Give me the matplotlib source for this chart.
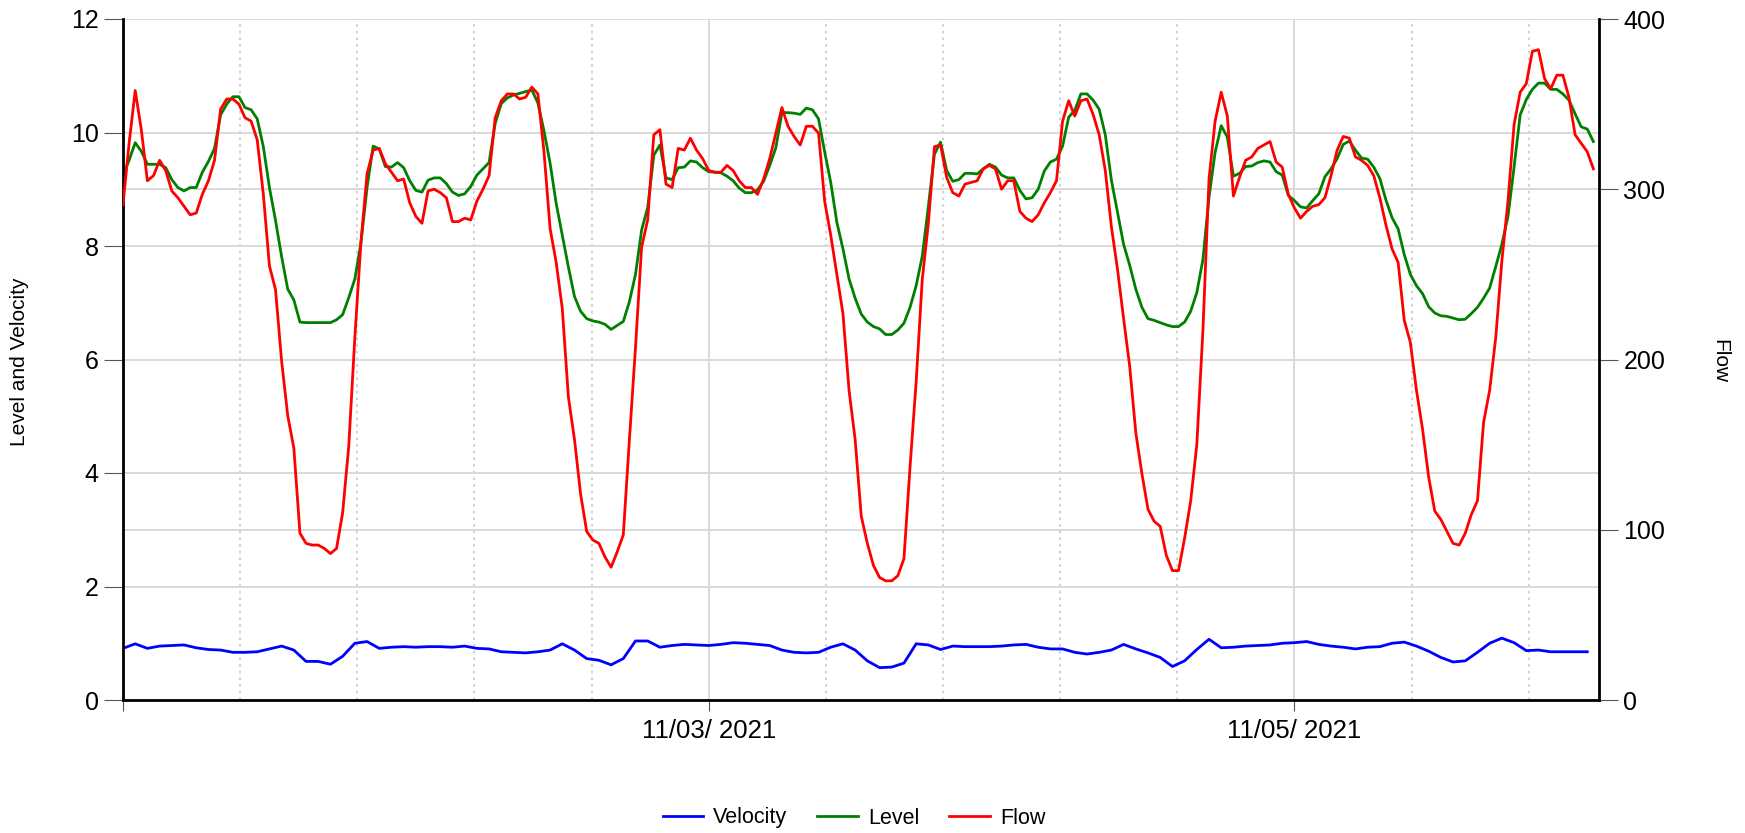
import matplotlib
matplotlib.use("Agg")
import matplotlib.pyplot as plt
import matplotlib.dates as mdates
from matplotlib.ticker import FixedLocator, NullFormatter
import pandas as pd

# --- Daten (30-min Raster fuer Level/Flow, Stundenraster fuer Velocity) ---
START = "2021-11-01 00:00"

level = [
    9.25, 9.51, 9.82, 9.67, 9.44, 9.44, 9.44, 9.38, 9.17, 9.03, 8.97, 9.03, 9.03, 9.30, 9.49, 9.72,
    10.31, 10.50, 10.63, 10.63, 10.44, 10.40, 10.24, 9.75, 9.03, 8.45, 7.81, 7.24, 7.05, 6.66, 6.65, 6.65,
    6.65, 6.65, 6.65, 6.70, 6.79, 7.09, 7.42, 8.06, 9.03, 9.76, 9.71, 9.40, 9.39, 9.47, 9.38, 9.15,
    8.98, 8.95, 9.16, 9.20, 9.20, 9.10, 8.95, 8.89, 8.92, 9.05, 9.25, 9.36, 9.47, 10.16, 10.51, 10.61,
    10.66, 10.69, 10.72, 10.75, 10.52, 10.03, 9.46, 8.75, 8.19, 7.63, 7.11, 6.85, 6.72, 6.68, 6.66, 6.62,
    6.53, 6.60, 6.67, 7.02, 7.50, 8.28, 8.68, 9.60, 9.78, 9.20, 9.17, 9.38, 9.39, 9.50, 9.48, 9.38,
    9.31, 9.30, 9.29, 9.23, 9.15, 9.02, 8.94, 8.94, 8.99, 9.14, 9.42, 9.73, 10.35, 10.35, 10.34, 10.32,
    10.43, 10.40, 10.24, 9.66, 9.12, 8.42, 7.95, 7.42, 7.08, 6.80, 6.66, 6.58, 6.54, 6.44, 6.44, 6.52,
    6.64, 6.92, 7.30, 7.82, 8.70, 9.62, 9.83, 9.33, 9.14, 9.17, 9.28, 9.28, 9.27, 9.36, 9.44, 9.39,
    9.25, 9.20, 9.20, 8.98, 8.83, 8.85, 9.00, 9.32, 9.48, 9.53, 9.76, 10.27, 10.39, 10.68, 10.68, 10.57,
    10.41, 9.96, 9.16, 8.60, 8.03, 7.66, 7.24, 6.92, 6.72, 6.69, 6.65, 6.61, 6.58, 6.58, 6.66, 6.85,
    7.18, 7.76, 8.86, 9.65, 10.12, 9.92, 9.23, 9.28, 9.40, 9.41, 9.47, 9.50, 9.48, 9.31, 9.25, 8.89,
    8.80, 8.69, 8.67, 8.80, 8.92, 9.22, 9.36, 9.54, 9.79, 9.85, 9.69, 9.55, 9.53, 9.39, 9.19, 8.81,
    8.50, 8.30, 7.85, 7.50, 7.30, 7.16, 6.93, 6.82, 6.77, 6.76, 6.73, 6.70, 6.71, 6.81, 6.92, 7.08,
    7.26, 7.64, 8.03, 8.52, 9.39, 10.31, 10.58, 10.76, 10.87, 10.87, 10.76, 10.76, 10.68, 10.57, 10.33, 10.10,
    10.06, 9.84,
]

flow = [
    291, 327, 358, 335, 305, 308, 317, 311, 299, 295, 290, 285, 286, 297, 305, 317,
    347, 353, 353, 350, 342, 340, 329, 297, 255, 241, 199, 167, 148, 98, 92, 91,
    91, 89, 86, 89, 110, 149, 213, 269, 309, 323, 324, 315, 310, 305, 306, 292,
    284, 280, 299, 300, 298, 295, 281, 281, 283, 282, 293, 300, 308, 342, 352, 356,
    356, 353, 354, 360, 356, 322, 277, 257, 230, 178, 153, 121, 99, 94, 92, 84,
    78, 87, 97, 153, 207, 266, 282, 332, 335, 303, 301, 324, 323, 330, 323, 318,
    311, 310, 310, 314, 311, 305, 301, 301, 297, 306, 318, 333, 348, 337, 331, 326,
    337, 337, 333, 293, 273, 250, 227, 182, 153, 108, 92, 79, 72, 70, 70, 73,
    83, 137, 187, 247, 280, 325, 326, 307, 298, 296, 303, 304, 305, 312, 314, 312,
    300, 305, 305, 287, 283, 281, 285, 292, 298, 305, 340, 352, 343, 352, 353, 344,
    332, 311, 278, 253, 224, 196, 157, 133, 112, 105, 102, 85, 76, 76, 95, 117,
    150, 217, 306, 340, 357, 343, 296, 307, 317, 319, 324, 326, 328, 316, 313, 297,
    289, 283, 287, 290, 291, 295, 308, 323, 331, 330, 319, 317, 314, 308, 295, 279,
    265, 257, 223, 210, 182, 159, 131, 111, 106, 99, 92, 91, 98, 109, 117, 163,
    182, 213, 258, 293, 338, 357, 362, 381, 382, 365, 359, 367, 367, 354, 332, 327,
    322, 312,
]

velocity = [
    0.91, 0.99, 0.91, 0.95, 0.96, 0.97, 0.92, 0.89, 0.88, 0.84, 0.84, 0.85, 0.90, 0.95, 0.88, 0.68,
    0.68, 0.63, 0.77, 1.00, 1.03, 0.91, 0.93, 0.94, 0.93, 0.94, 0.94, 0.93, 0.95, 0.91, 0.90, 0.85,
    0.84, 0.83, 0.85, 0.88, 0.99, 0.88, 0.73, 0.70, 0.62, 0.73, 1.04, 1.04, 0.93, 0.96, 0.98, 0.97,
    0.96, 0.98, 1.01, 1.00, 0.98, 0.96, 0.88, 0.84, 0.83, 0.84, 0.93, 0.99, 0.88, 0.69, 0.57, 0.58,
    0.65, 0.99, 0.97, 0.89, 0.95, 0.94, 0.94, 0.94, 0.95, 0.97, 0.98, 0.93, 0.90, 0.90, 0.84, 0.81,
    0.84, 0.88, 0.98, 0.90, 0.83, 0.75, 0.59, 0.69, 0.89, 1.07, 0.92, 0.93, 0.95, 0.96, 0.97, 1.00,
    1.01, 1.03, 0.98, 0.95, 0.93, 0.90, 0.93, 0.94, 1.00, 1.02, 0.95, 0.86, 0.75, 0.67, 0.69, 0.84,
    1.00, 1.09, 1.01, 0.87, 0.88, 0.85, 0.85, 0.85, 0.85,
]

x_labels = ["", "11/03/ 2021", "11/05/ 2021"]

t_30 = pd.date_range(START, periods=len(level), freq="30min")
t_60 = pd.date_range(START, periods=len(velocity), freq="60min")

# --- Plot ---
plt.rcParams["font.family"] = ["Liberation Sans", "DejaVu Sans"]
fig = plt.figure(figsize=(17.45, 8.33), dpi=100)
ax = fig.add_axes([123 / 1745, 133 / 833, 1476 / 1745, 681 / 833])
ax2 = ax.twinx()

grid_col = "#d9d9d9"
l_vel, = ax.plot(t_60, velocity, color="#0000ff", lw=2.0, label="Velocity")
l_lev, = ax.plot(t_30, level, color="#008000", lw=2.0, label="Level")
l_flow, = ax2.plot(t_30, flow, color="#ff0000", lw=2.0, label="Flow")

ax.set_ylim(0, 12)
ax2.set_ylim(0, 400)
ax.set_yticks([0, 2, 4, 6, 8, 10, 12])
ax2.set_yticks([0, 100, 200, 300, 400])
ax.yaxis.set_minor_locator(FixedLocator([3, 9]))

x0 = pd.Timestamp(START)
ax.set_xlim(x0, x0 + pd.Timedelta(days=5.04))
major = [x0 + pd.Timedelta(days=d) for d in (0, 2, 4)]
ax.set_xticks(major)
ax.set_xticklabels(x_labels)
minor_days = [0.4, 0.8, 1.2, 1.6, 2.4, 2.8, 3.2, 3.6, 4.4, 4.8]
ax.xaxis.set_minor_locator(FixedLocator([mdates.date2num(x0 + pd.Timedelta(days=d)) for d in minor_days]))
ax.xaxis.set_minor_formatter(NullFormatter())

ax.grid(True, which="major", color=grid_col, lw=1.4)
ax.grid(True, which="minor", axis="y", color=grid_col, lw=1.4, ls="-")
ax.grid(True, which="minor", axis="x", color="#c8c8c8", lw=1.2, ls=(0, (1.5, 2.5)))
ax.set_axisbelow(True)

for s in ("top", "right"):
    ax.spines[s].set_visible(False)
for s in ("top", "left", "bottom"):
    ax2.spines[s].set_visible(False)
for sp in (ax.spines["left"], ax.spines["bottom"], ax2.spines["right"]):
    sp.set_color("black")
    sp.set_linewidth(2.0)

ax.tick_params(axis="y", which="major", length=13.5, width=0.8, color="#555555", labelsize=18, pad=4)
ax.tick_params(axis="y", which="minor", length=0)
ax.tick_params(axis="x", which="major", length=8, width=0.8, color="#555555", labelsize=18.5, pad=6)
ax.tick_params(axis="x", which="minor", length=0)
ax2.tick_params(axis="y", length=13.5, width=0.8, color="#555555", labelsize=18, pad=4)

fig.text(20 / 1745, 1 - 362 / 833, "Level and Velocity", rotation=90, ha="center", va="center", fontsize=15)
fig.text(1720 / 1745, 1 - 361 / 833, "Flow", rotation=270, ha="center", va="center", fontsize=15)

fig.legend(handles=[l_vel, l_lev, l_flow], loc="center", bbox_to_anchor=(854 / 1745, 1 - 818 / 833),
           ncol=3, frameon=False, fontsize=15.5, handlelength=1.9, handletextpad=0.45,
           columnspacing=1.4)

fig.savefig("out.png", dpi=100)
